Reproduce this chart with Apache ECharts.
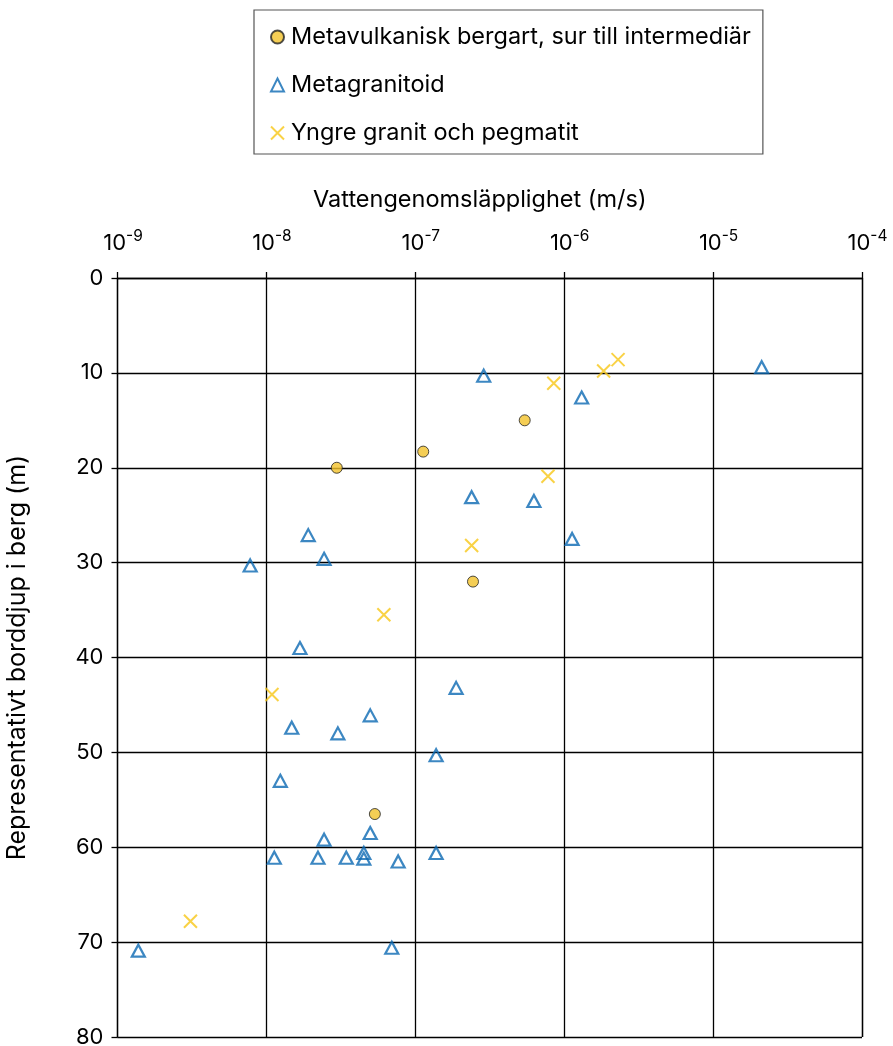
<!DOCTYPE html>
<html><head><meta charset="utf-8">
<script src="https://cdn.jsdelivr.net/npm/echarts@6/dist/echarts.min.js"></script>
<style>html,body{margin:0;padding:0;background:#fff}#c{width:893px;height:1046px}</style>
</head><body><div id="c"></div>
<script>
const seriesNames = ['Metavulkanisk bergart, sur till intermediär', 'Metagranitoid', 'Yngre granit och pegmatit'];
const xAxisTitle = 'Vattengenomsläpplighet (m/s)';
const yAxisTitle = 'Representativt borddjup i berg (m)';
const xTickExponents = [-9, -8, -7, -6, -5, -4];
const yTicks = [0, 10, 20, 30, 40, 50, 60, 70, 80];

// [hydraulic conductivity (m/s), depth (m)]
const metavulkanisk = [
  [2.97e-8, 20.0], [1.13e-7, 18.3], [2.44e-7, 32.0], [5.43e-7, 15.0], [5.35e-8, 56.5]
];
const metagranitoid = [
  [2.88e-7, 10.3], [1.31e-6, 12.6], [2.12e-5, 9.4], [2.39e-7, 23.1], [6.26e-7, 23.5],
  [1.13e-6, 27.5], [1.91e-8, 27.1], [2.44e-8, 29.6], [7.78e-9, 30.3], [1.68e-8, 39.0],
  [1.88e-7, 43.2], [4.98e-8, 46.1], [1.48e-8, 47.4], [3.02e-8, 48.0], [1.38e-7, 50.3],
  [1.24e-8, 53.0], [4.98e-8, 58.5], [2.44e-8, 59.2], [1.13e-8, 61.1], [2.22e-8, 61.1],
  [3.44e-8, 61.1], [4.51e-8, 60.6], [4.51e-8, 61.2], [7.67e-8, 61.5], [1.38e-7, 60.6],
  [6.95e-8, 70.6], [1.38e-9, 70.9]
];
const yngreGranit = [
  [8.51e-7, 11.1], [1.84e-6, 9.8], [2.30e-6, 8.6], [7.78e-7, 20.9], [2.39e-7, 28.2],
  [6.15e-8, 35.5], [1.09e-8, 43.9], [3.09e-9, 67.8]
];

const FONT = 'Inter, Liberation Sans, Arial, sans-serif';
const chart = echarts.init(document.getElementById('c'), null, {renderer: 'canvas'});
chart.setOption({
  animation: false,
  backgroundColor: '#fff',
  textStyle: {fontFamily: FONT, color: '#000'},
  grid: {left: 117.5, top: 278, width: 744.5, height: 759, containLabel: false, outerBoundsMode: 'none'},
  legend: {
    orient: 'vertical', left: 254, top: 10,
    padding: [14, 12, 8, 16],
    borderColor: '#555', borderWidth: 1.2,
    itemWidth: 13, itemHeight: 13, itemGap: 22,
    textStyle: {fontFamily: FONT, fontSize: 23.5, color: '#000', lineHeight: 26, padding: [0, 0, 0, 2]},
    data: seriesNames
  },
  xAxis: {
    type: 'log', logBase: 10, min: 1e-9, max: 1e-4, position: 'top',
    name: xAxisTitle, nameLocation: 'middle', nameGap: 66,
    nameTextStyle: {fontFamily: FONT, fontSize: 23.5, color: '#000', padding: [0, 20, 0, 0]},
    axisLine: {show: true, lineStyle: {color: '#000', width: 1.3}},
    axisTick: {show: true, length: 6, lineStyle: {color: '#000', width: 1.3}},
    minorTick: {show: false},
    splitLine: {show: true, lineStyle: {color: '#000', width: 1.3}},
    axisLabel: {
      margin: 20, showMinLabel: true, showMaxLabel: true,
      padding: [0, 0, 0, 11],
      formatter: function (v) {
        const e = Math.round(Math.log10(v));
        return xTickExponents.indexOf(e) >= 0 ? '{a|10}{b|' + e + '}' : '';
      },
      rich: {
        a: {fontFamily: FONT, fontSize: 22, color: '#000'},
        b: {fontFamily: FONT, fontSize: 15.5, color: '#000', padding: [0, 0, 14, 0]}
      }
    }
  },
  yAxis: {
    type: 'value', inverse: true, min: 0, max: 80, interval: 10,
    name: yAxisTitle, nameLocation: 'middle', nameGap: 88, nameRotate: 90,
    nameTextStyle: {fontFamily: FONT, fontSize: 25, color: '#000'},
    axisLine: {show: true, lineStyle: {color: '#000', width: 1.3}},
    axisTick: {show: true, length: 6, lineStyle: {color: '#000', width: 1.3}},
    splitLine: {show: true, lineStyle: {color: '#000', width: 1.3}},
    axisLabel: {margin: 14, fontFamily: FONT, fontSize: 22, color: '#000',
      formatter: function (v) { return yTicks.indexOf(v) >= 0 ? String(v) : ''; }}
  },
  series: [
    {
      name: seriesNames[0], type: 'scatter', data: metavulkanisk, z: 3,
      symbol: 'circle', symbolSize: 11,
      itemStyle: {color: '#F3C22B', borderColor: '#222', borderWidth: 1}
    },
    {
      name: seriesNames[1], type: 'scatter', data: metagranitoid, z: 3,
      symbol: 'triangle', symbolSize: [13, 12],
      itemStyle: {color: 'rgba(255,255,255,0)', borderColor: '#0B69B3', borderWidth: 2.2}
    },
    {
      name: seriesNames[2], type: 'scatter', data: yngreGranit, z: 3,
      symbol: 'path://M0,0L10,10M10,0L0,10', symbolSize: 13,
      itemStyle: {color: 'rgba(255,255,255,0)', borderColor: '#F7C716', borderWidth: 2}
    }
  ]
});
</script></body></html>
